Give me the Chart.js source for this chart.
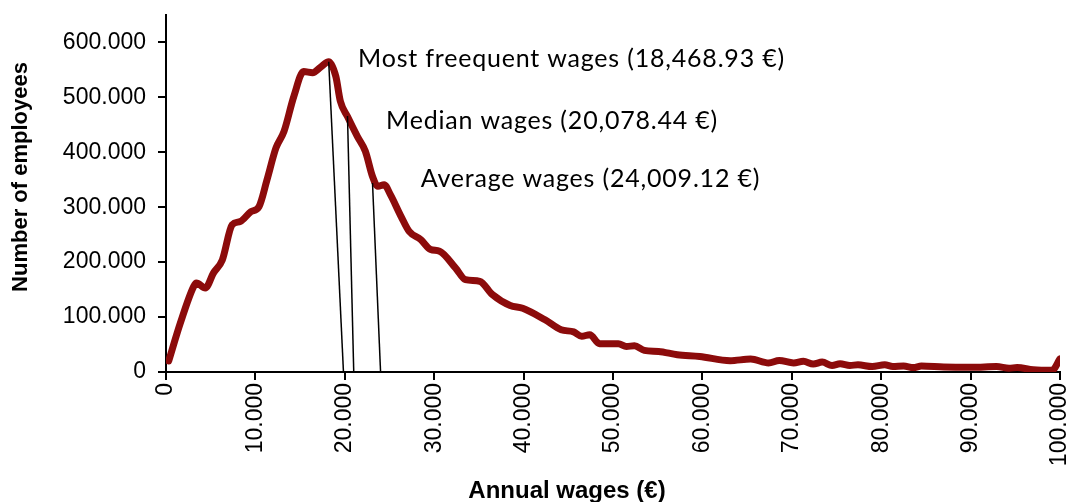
<!DOCTYPE html>
<html>
<head>
<meta charset="utf-8">
<script src="https://cdn.jsdelivr.net/npm/chart.js@4.4.0/dist/chart.umd.min.js"></script>
<style>
  html, body { margin: 0; padding: 0; background: #fff; }
  #wrap { width: 1071px; height: 502px; }
</style>
</head>
<body>
<div id="wrap"><canvas id="wagesChart" width="1071" height="502"></canvas></div>
<script>
// annual wage (euros) and number of employees
const wageSteps = [300, 1600, 3100, 3400, 4400, 5300, 6300, 7400, 8300, 9500,
    10400, 11300, 12300, 13200, 14300, 15400, 16400, 17300, 18200, 19000,
    19500, 20300, 21400, 22300, 23100, 23700, 24400, 25100, 26300, 27200,
    28500, 29600, 30600, 32400, 33500, 35100, 36500, 38500, 39900, 42400,
    44200, 45600, 46500, 47400, 48500, 50600, 51500, 52400, 53500, 55100,
    57200, 59700, 63100, 65400, 67400, 68600, 70200, 71300, 72400, 73400,
    74500, 75400, 76500, 77400, 79000, 80400, 81300, 82500, 83600, 84500,
    87000, 90200, 92900, 94300, 95200, 97000, 99100, 100000];
const employees = [20000, 89000, 156000, 162000, 153000, 180000, 204000, 268000, 274000, 292000,
    301000, 350000, 408000, 438000, 502000, 547000, 545000, 555000, 565000, 538000,
    493000, 465000, 429000, 402000, 356000, 338000, 341000, 323000, 283000, 256000,
    241000, 223000, 220000, 189000, 168000, 165000, 141000, 121000, 116000, 95000,
    77000, 73000, 65000, 68000, 51500, 51500, 46600, 47600, 39300, 37500,
    31500, 28400, 20600, 23600, 16400, 21000, 16400, 19400, 14500, 18000,
    12000, 15000, 12000, 13000, 10000, 13000, 10000, 11000, 8000, 11000,
    9000, 8500, 10000, 7000, 8000, 4000, 3000, 24000];

// marker lines: from a point on the curve down to the axis
const markerNames = ['Most freequent wages (18,468.93 €)', 'Median wages (20,078.44 €)', 'Average wages (24,009.12 €)'];
const markerTopWage = [18200, 20300, 23100];
const markerTopCount = [565000, 466000, 344000];
const markerBaseWage = [19850, 21000, 24000];

const xTicks = [0, 10000, 20000, 30000, 40000, 50000, 60000, 70000, 80000, 90000, 100000];
const yTicks = [0, 100000, 200000, 300000, 400000, 500000, 600000];

function dotted(v) {
    return String(v).replace(/\B(?=(\d{3})+(?!\d))/g, '.');
}

// text placed next to the marker lines, anchored in data units
const markerTextPlugin = {
    id: 'markerText',
    afterDatasetsDraw(chart, args, opts) {
        const ctx = chart.ctx;
        const xs = chart.scales.x, ys = chart.scales.y;
        ctx.save();
        ctx.fillStyle = '#000';
        ctx.font = '25px Lato';
        ctx.letterSpacing = '0.8px';
        ctx.textBaseline = 'alphabetic';
        ctx.textAlign = 'left';
        markerNames.forEach((name, i) => {
            const a = opts.anchors[i];
            ctx.fillText(name, xs.getPixelForValue(a[0]), ys.getPixelForValue(a[1]));
        });
        ctx.letterSpacing = '0px';

        // axis titles
        ctx.textAlign = 'center';
        ctx.textBaseline = 'middle';
        ctx.font = 'bold 24px "Liberation Sans", Arial';
        ctx.fillText('Annual wages (€)', 567, 491);
        ctx.font = 'bold 22px "Liberation Sans", Arial';
        ctx.translate(21, 177);
        ctx.rotate(-Math.PI / 2);
        ctx.fillText('Number of employees', 0, 0);
        ctx.restore();
    }
};

const datasets = markerNames.map((name, i) => ({
    label: name,
    data: [
        { x: markerTopWage[i], y: markerTopCount[i] },
        { x: markerBaseWage[i], y: 0 }
    ],
    borderColor: '#000',
    borderWidth: 1.5,
    pointRadius: 0,
    order: 0
}));

datasets.push({
    label: 'Employees',
    data: wageSteps.map((w, i) => ({ x: w, y: employees[i] })),
    borderColor: '#8c0b0b',
    borderWidth: 7,
    pointRadius: 0,
    cubicInterpolationMode: 'monotone',
    borderCapStyle: 'round',
    borderJoinStyle: 'round',
    order: 1
});

const tickFont = { family: '"Liberation Sans", Arial', size: 23 };

new Chart(document.getElementById('wagesChart'), {
    type: 'line',
    data: { datasets: datasets },
    plugins: [markerTextPlugin],
    options: {
        responsive: false,
        animation: false,
        layout: { padding: { top: 15, right: 11, left: 0, bottom: 0 } },
        plugins: {
            legend: { display: false },
            tooltip: { enabled: false },
            markerText: {
                anchors: [[21480, 555300], [24610, 442000], [28490, 337600]]
            }
        },
        scales: {
            x: {
                type: 'linear',
                min: 0,
                max: 100000,
                afterBuildTicks: scale => { scale.ticks = xTicks.map(v => ({ value: v })); },
                afterFit: scale => {
                    scale.height = 130;
                    scale.paddingLeft = 0;
                    scale.paddingRight = 0;
                },
                ticks: {
                    color: '#000',
                    font: tickFont,
                    minRotation: 90,
                    maxRotation: 90,
                    padding: 3,
                    callback: v => dotted(v)
                },
                grid: {
                    drawOnChartArea: false,
                    drawTicks: true,
                    tickLength: 8,
                    color: '#000',
                    lineWidth: 2
                },
                border: { display: true, color: '#000', width: 2 }
            },
            y: {
                type: 'linear',
                min: 0,
                max: 650000,
                afterBuildTicks: scale => { scale.ticks = yTicks.map(v => ({ value: v })); },
                afterFit: scale => {
                    scale.width = 166;
                    scale.paddingTop = 0;
                    scale.paddingBottom = 0;
                },
                ticks: {
                    color: '#000',
                    font: tickFont,
                    padding: 12,
                    callback: v => dotted(v)
                },
                grid: {
                    drawOnChartArea: false,
                    drawTicks: true,
                    tickLength: 8,
                    color: '#000',
                    lineWidth: 2
                },
                border: { display: true, color: '#000', width: 2 }
            }
        }
    }
});
</script>
</body>
</html>
